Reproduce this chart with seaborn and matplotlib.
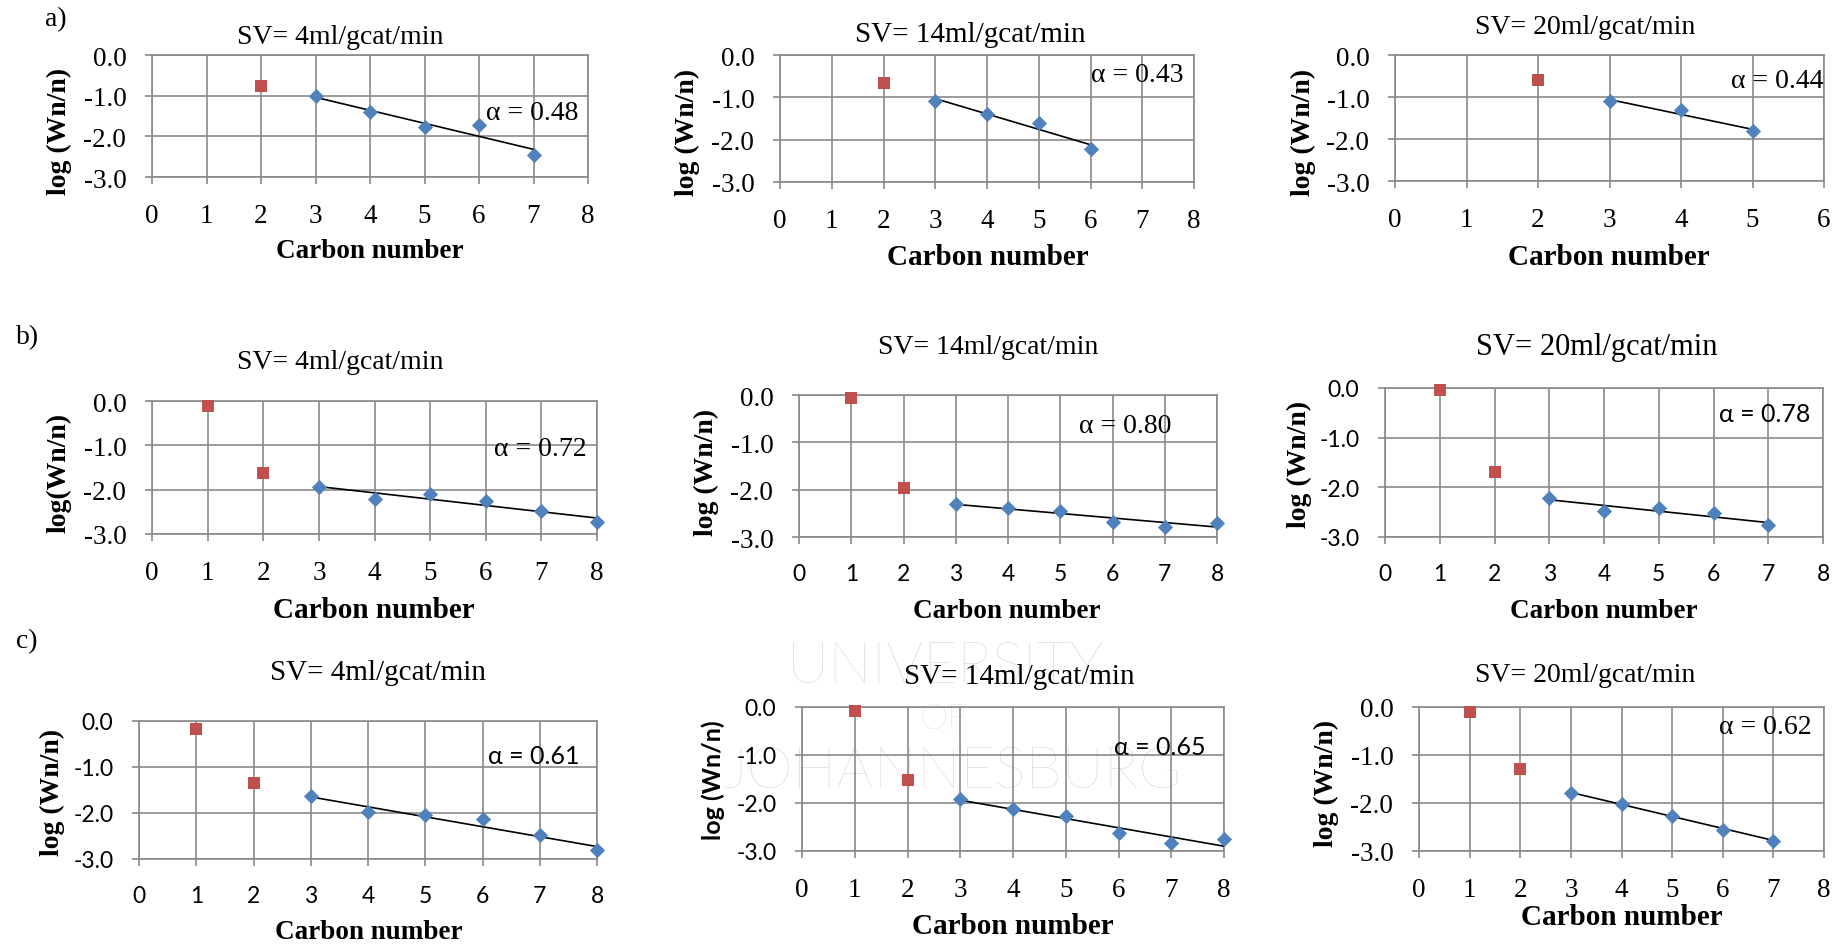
import matplotlib
matplotlib.use("Agg")
import matplotlib.pyplot as plt
import seaborn as sns

sns.set_theme(style="white")
plt.rcParams["font.family"] = ["Liberation Serif", "DejaVu Sans"]

W, H = 1836, 945
SERIF = ["Liberation Serif", "DejaVu Serif"]
SANS = ["Lato", "DejaVu Sans"]
BLUE = "#4F81BD"
RED = "#C0504D"
GRID = "#8a8a8a"

# ---------------- data ----------------
y_ticks = [0.0, -1.0, -2.0, -3.0]
y_tick_labels = ["0.0", "-1.0", "-2.0", "-3.0"]
titles = ["SV= 4ml/gcat/min", "SV= 14ml/gcat/min", "SV= 20ml/gcat/min"]
x_label = "Carbon number"
row_labels = ["a)", "b)", "c)"]

a1_red_x, a1_red_y = [2], [-0.77]
a1_blue_x, a1_blue_y = [3, 4, 5, 6, 7], [-1.00, -1.41, -1.77, -1.72, -2.45]
a1_fit_x, a1_fit_y = [3, 7], [-1.04, -2.32]
a1_alpha = "α = 0.48"

a2_red_x, a2_red_y = [2], [-0.66]
a2_blue_x, a2_blue_y = [3, 4, 5, 6], [-1.08, -1.40, -1.61, -2.23]
a2_fit_x, a2_fit_y = [3, 6], [-1.03, -2.12]
a2_alpha = "α = 0.43"

a3_red_x, a3_red_y = [2], [-0.59]
a3_blue_x, a3_blue_y = [3, 4, 5], [-1.10, -1.31, -1.81]
a3_fit_x, a3_fit_y = [3, 5], [-1.06, -1.77]
a3_alpha = "α = 0.44"

b1_red_x, b1_red_y = [1, 2], [-0.11, -1.63]
b1_blue_x, b1_blue_y = [3, 4, 5, 6, 7, 8], [-1.94, -2.20, -2.09, -2.25, -2.48, -2.72]
b1_fit_x, b1_fit_y = [3, 8], [-1.93, -2.64]
b1_alpha = "α = 0.72"

b2_red_x, b2_red_y = [1, 2], [-0.06, -1.97]
b2_blue_x, b2_blue_y = [3, 4, 5, 6, 7, 8], [-2.31, -2.39, -2.46, -2.68, -2.79, -2.70]
b2_fit_x, b2_fit_y = [3, 8], [-2.31, -2.79]
b2_alpha = "α = 0.80"

b3_red_x, b3_red_y = [1, 2], [-0.05, -1.69]
b3_blue_x, b3_blue_y = [3, 4, 5, 6, 7], [-2.22, -2.48, -2.42, -2.52, -2.75]
b3_fit_x, b3_fit_y = [3, 7], [-2.25, -2.71]
b3_alpha = "α = 0.78"

c1_red_x, c1_red_y = [1, 2], [-0.17, -1.35]
c1_blue_x, c1_blue_y = [3, 4, 5, 6, 7, 8], [-1.62, -1.98, -2.05, -2.14, -2.47, -2.80]
c1_fit_x, c1_fit_y = [3, 8], [-1.65, -2.73]
c1_alpha = "α = 0.61"

c2_red_x, c2_red_y = [1, 2], [-0.08, -1.52]
c2_blue_x, c2_blue_y = [3, 4, 5, 6, 7, 8], [-1.92, -2.13, -2.27, -2.62, -2.84, -2.76]
c2_fit_x, c2_fit_y = [3, 8], [-1.94, -2.90]
c2_alpha = "α = 0.65"

c3_red_x, c3_red_y = [1, 2], [-0.10, -1.29]
c3_blue_x, c3_blue_y = [3, 4, 5, 6, 7], [-1.79, -2.02, -2.27, -2.57, -2.80]
c3_fit_x, c3_fit_y = [3, 7], [-1.78, -2.78]
c3_alpha = "α = 0.62"

watermark_lines = ["UNIVERSITY", "OF", "JOHANNESBURG"]

# ---------------- layout (pixels) ----------------
panels = [
    dict(data=(a1_red_x, a1_red_y, a1_blue_x, a1_blue_y, a1_fit_x, a1_fit_y, a1_alpha), title=titles[0], xmax=8,
         box=(152, 588, 56, 178), title_xy=(340, 38), alpha_xy=(486, 113), ylab="log (Wn/n)", ylab_xy=(59, 131),
         xlab_xy=(370, 252), xfont="serif", yfont="serif", afont="serif", ylfont="serif", tsize=20, xlsize=19.5),
    dict(data=(a2_red_x, a2_red_y, a2_blue_x, a2_blue_y, a2_fit_x, a2_fit_y, a2_alpha), title=titles[1], xmax=8,
         box=(780, 1194, 56, 183), title_xy=(970, 35), alpha_xy=(1091, 76), ylab="log (Wn/n)", ylab_xy=(687, 132),
         xlab_xy=(988, 258), xfont="serif", yfont="serif", afont="serif", ylfont="serif", tsize=21, xlsize=21),
    dict(data=(a3_red_x, a3_red_y, a3_blue_x, a3_blue_y, a3_fit_x, a3_fit_y, a3_alpha), title=titles[2], xmax=6,
         box=(1395, 1824, 56, 182), title_xy=(1585, 27), alpha_xy=(1731, 82), ylab="log (Wn/n)", ylab_xy=(1303, 132),
         xlab_xy=(1609, 258), xfont="serif", yfont="serif", afont="serif", ylfont="serif", tsize=20, xlsize=21),
    dict(data=(b1_red_x, b1_red_y, b1_blue_x, b1_blue_y, b1_fit_x, b1_fit_y, b1_alpha), title=titles[0], xmax=8,
         box=(152, 597, 402, 535), title_xy=(340, 363), alpha_xy=(494, 450), ylab="log(Wn/n)", ylab_xy=(59, 473),
         xlab_xy=(374, 611), xfont="serif", yfont="serif", afont="serif", ylfont="serif", tsize=20, xlsize=21),
    dict(data=(b2_red_x, b2_red_y, b2_blue_x, b2_blue_y, b2_fit_x, b2_fit_y, b2_alpha), title=titles[1], xmax=8,
         box=(799, 1217, 396, 538), title_xy=(988, 347), alpha_xy=(1079, 427), ylab="log (Wn/n)", ylab_xy=(706, 472),
         xlab_xy=(1007, 612), xfont="sans", yfont="serif", afont="serif", ylfont="serif", tsize=20, xlsize=19.5),
    dict(data=(b3_red_x, b3_red_y, b3_blue_x, b3_blue_y, b3_fit_x, b3_fit_y, b3_alpha), title=titles[2], xmax=8,
         box=(1385, 1823, 389, 538), title_xy=(1597, 347), alpha_xy=(1719, 415), ylab="log (Wn/n)", ylab_xy=(1299, 464),
         xlab_xy=(1604, 612), xfont="sans", yfont="sans", afont="sans", ylfont="serif", tsize=22, xlsize=19.5),
    dict(data=(c1_red_x, c1_red_y, c1_blue_x, c1_blue_y, c1_fit_x, c1_fit_y, c1_alpha), title=titles[0], xmax=8,
         box=(139, 597, 722, 860), title_xy=(378, 673), alpha_xy=(488, 757), ylab="log (Wn/n)", ylab_xy=(52, 792),
         xlab_xy=(369, 933), xfont="sans", yfont="sans", afont="sans", ylfont="serif", tsize=21, xlsize=19.5),
    dict(data=(c2_red_x, c2_red_y, c2_blue_x, c2_blue_y, c2_fit_x, c2_fit_y, c2_alpha), title=titles[1], xmax=8,
         box=(802, 1224, 708, 852), title_xy=(1019, 677), alpha_xy=(1114, 748), ylab="log (Wn/n)", ylab_xy=(713, 780),
         xlab_xy=(1013, 927), xfont="serif", yfont="sans", afont="sans", ylfont="sans", tsize=21, xlsize=21),
    dict(data=(c3_red_x, c3_red_y, c3_blue_x, c3_blue_y, c3_fit_x, c3_fit_y, c3_alpha), title=titles[2], xmax=8,
         box=(1419, 1824, 708, 852), title_xy=(1585, 675), alpha_xy=(1719, 728), ylab="log (Wn/n)", ylab_xy=(1326, 783),
         xlab_xy=(1622, 918), xfont="serif", yfont="serif", afont="serif", ylfont="serif", tsize=20, xlsize=21),
]
row_label_xy = [(45, 20), (16, 338), (16, 642)]
watermark_xy = [(945, 667), (944, 720), (952, 772)]
watermark_size = [42, 26, 42]

FAM = {"serif": SERIF, "sans": SANS}
TICKSIZE = {"serif": 19.5, "sans": 16.5}
ALPHASIZE = {"serif": 20, "sans": 18}


def fx(x):
    return x / W


def fy(y):
    return 1 - y / H


fig = plt.figure(figsize=(W / 100, H / 100), dpi=100, facecolor="white")

# faint watermark text (drawn beneath the transparent axes)
for txt, (wx, wy), ws in zip(watermark_lines, watermark_xy, watermark_size):
    fig.text(fx(wx), fy(wy), txt, ha="center", va="center", fontsize=ws,
             family=["Lato", "DejaVu Sans"], fontweight="light", color="#d6d6d6", zorder=-5)

for p in panels:
    red_x, red_y, blue_x, blue_y, fit_x, fit_y, alpha_txt = p["data"]
    x0, x1, yt, yb = p["box"]
    ax = fig.add_axes([fx(x0), fy(yb), (x1 - x0) / W, (yb - yt) / H])
    ax.set_facecolor("none")

    sns.lineplot(x=fit_x, y=fit_y, color="black", linewidth=1.2, ax=ax, zorder=3)
    sns.scatterplot(x=blue_x, y=blue_y, marker="D", s=60, color=BLUE, linewidth=0,
                    ax=ax, zorder=4, clip_on=False)
    sns.scatterplot(x=red_x, y=red_y, marker="s", s=72, color=RED, linewidth=0,
                    ax=ax, zorder=4, clip_on=False)

    xmax = p["xmax"]
    ax.set_xlim(0, xmax)
    ax.set_ylim(-3, 0)
    xt = list(range(xmax + 1))
    ax.set_xticks(xt)
    ax.set_xticklabels([str(v) for v in xt], family=FAM[p["xfont"]], fontsize=TICKSIZE[p["xfont"]])
    ax.set_yticks(y_ticks)
    ax.set_yticklabels(y_tick_labels, family=FAM[p["yfont"]], fontsize=TICKSIZE[p["yfont"]])
    ax.grid(True, color=GRID, linewidth=1.2)
    ax.set_axisbelow(True)
    for sp in ax.spines.values():
        sp.set_color(GRID)
        sp.set_linewidth(1.2)
    ax.tick_params(axis="both", direction="out", length=5, width=1.2, color=GRID,
                   labelcolor="black", pad=13.5, bottom=True, left=True)
    ax.set_xlabel("")
    ax.set_ylabel("")

    fig.text(fx(p["title_xy"][0]), fy(p["title_xy"][1]), p["title"], ha="center", va="center",
             family=SERIF, fontsize=p["tsize"], color="black")
    fig.text(fx(p["alpha_xy"][0]), fy(p["alpha_xy"][1]), alpha_txt, ha="left", va="center",
             family=FAM[p["afont"]], fontsize=ALPHASIZE[p["afont"]], color="black")
    fig.text(fx(p["xlab_xy"][0]), fy(p["xlab_xy"][1]), x_label, ha="center", va="center",
             family=SERIF, fontsize=p["xlsize"], fontweight="bold", color="black")
    fig.text(fx(p["ylab_xy"][0]), fy(p["ylab_xy"][1]), p["ylab"], ha="center", va="center",
             rotation=90, family=FAM[p["ylfont"]], fontsize=20 if p["ylfont"] == "serif" else 18,
             fontweight="bold", color="black")

for lab, (lx, ly) in zip(row_labels, row_label_xy):
    fig.text(fx(lx), fy(ly), lab, ha="left", va="center", family=SERIF, fontsize=20, color="black")

fig.savefig("out.png", dpi=100, facecolor="white")
